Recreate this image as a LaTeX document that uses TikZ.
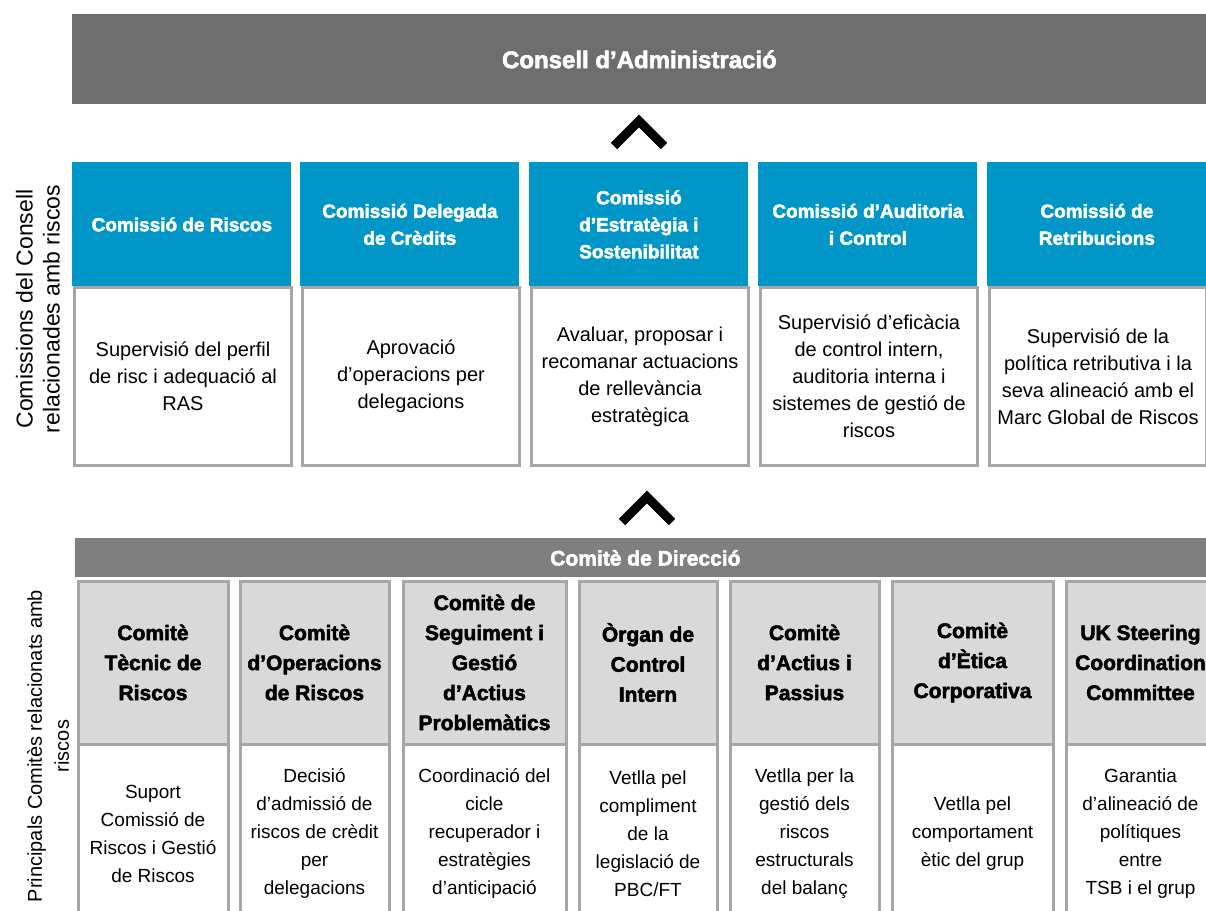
\documentclass[tikz,border=0pt]{standalone}
\usepackage{fontspec}
\setmainfont{Liberation Sans}
\newfontfamily\heavyfont{Liberation Sans Bold}[RawFeature={embolden=2.4}]

\definecolor{boardgray}{HTML}{6E6E6E}
\definecolor{dirgray}{HTML}{7F7F7F}
\definecolor{comblue}{HTML}{0096C8}
\definecolor{headgray}{HTML}{D9D9D9}
\definecolor{linegray}{HTML}{A6A6A6}

\tikzset{
  bar/.style={anchor=north west, fill=#1, text=white, inner sep=0pt},
  comhead/.style={anchor=north west, fill=comblue, text=white, align=center,
    minimum width=109.5pt, minimum height=62pt, inner sep=2pt,
    font=\heavyfont\fontsize{9.5}{13.5}\selectfont},
  combody/.style={anchor=north west, draw=linegray, line width=1.5pt, fill=white,
    align=center, minimum width=108.5pt, minimum height=89pt, inner sep=2pt,
    font=\fontsize{10}{13.5}\selectfont},
  ctehead/.style={anchor=north west, draw=linegray, line width=1.5pt, fill=headgray,
    align=center, minimum width=#1, minimum height=81.5pt, inner sep=2pt,
    font=\heavyfont\fontsize{10.5}{15}\selectfont},
  ctebody/.style={anchor=north west, draw=linegray, line width=1.5pt, fill=white,
    align=center, minimum width=#1, minimum height=89pt, inner sep=2pt,
    font=\fontsize{9.5}{14}\selectfont},
  chevron/.style={line width=4.5pt, miter limit=10},
  side/.style={rotate=90, align=center},
}

\begin{document}
\begin{tikzpicture}[x=0.5pt, y=-0.5pt]
  \useasboundingbox (0,0) rectangle (1206,911);
  \clip (0,0) rectangle (1206,911);

  % consell
  \node[bar=boardgray, minimum width=567pt, minimum height=45pt,
    font=\heavyfont\fontsize{12}{14}\selectfont] (board) at (72,14) {Consell d’Administració};
  \coordinate (up1) at (639,121);
  \draw[chevron] (up1) ++(-25,25) -- ++(25,-25) -- ++(25,25);

  % comissions del consell
  \node[side, font=\fontsize{11.5}{13.5}\selectfont] (comlabel) at (38,309)
    {Comissions del Consell\\relacionades amb riscos};

  \node[combody] (risctxt) at (73,286) {Supervisió del perfil\\de risc i adequació al\\RAS};
  \node[comhead] (risc) at (72,162) {Comissió de Riscos};

  \node[combody] (credittxt) at (301,286) {Aprovació\\d’operacions per\\delegacions};
  \node[comhead] (credit) at (300,162) {Comissió Delegada\\de Crèdits};

  \node[combody] (estrattxt) at (530,286) {Avaluar, proposar i\\recomanar actuacions\\de rellevància\\estratègica};
  \node[comhead] (estrat) at (529,162) {Comissió\\d’Estratègia i\\Sostenibilitat};

  \node[combody] (audittxt) at (759,286) {Supervisió d’eficàcia\\de control intern,\\auditoria interna i\\sistemes de gestió de\\riscos};
  \node[comhead] (audit) at (758,162) {Comissió d’Auditoria\\i Control};

  \node[combody] (retribtxt) at (988,286) {Supervisió de la\\política retributiva i la\\seva alineació amb el\\Marc Global de Riscos};
  \node[comhead] (retrib) at (987,162) {Comissió de\\Retribucions};

  \coordinate (up2) at (647,497);
  \draw[chevron] (up2) ++(-25,25) -- ++(25,-25) -- ++(25,25);

  % comite de direccio
  \node[bar=dirgray, minimum width=570pt, minimum height=19.5pt,
    font=\heavyfont\fontsize{10.5}{12}\selectfont] (direccio) at (75,538) {Comitè de Direcció};

  \node[side, font=\fontsize{10}{13.5}\selectfont] (ctelabel) at (48,746)
    {Principals Comitès relacionats amb\\riscos};

  \node[ctehead=75pt] (tecnic) at (76.5,579.5) {Comitè\\Tècnic de\\Riscos};
  \node[ctebody=75pt] (tecnictxt) at (76.5,743) {Suport\\Comissió de\\Riscos i Gestió\\de Riscos};

  \node[ctehead=74.5pt] (operac) at (238.5,579.5) {Comitè\\d’Operacions\\de Riscos};
  \node[ctebody=74.5pt] (operactxt) at (238.5,743) {Decisió\\d’admissió de\\riscos de crèdit\\per\\delegacions};

  \node[ctehead=81.5pt] (seguim) at (401.5,579.5) {Comitè de\\Seguiment i\\Gestió\\d’Actius\\Problemàtics};
  \node[ctebody=81.5pt] (seguimtxt) at (401.5,743) {Coordinació del\\cicle\\recuperador i\\estratègies\\d’anticipació};

  \node[ctehead=69pt] (organ) at (577.5,579.5) {Òrgan de\\Control\\Intern};
  \node[ctebody=69pt] (organtxt) at (577.5,743) {Vetlla pel\\compliment\\de la\\legislació de\\PBC/FT};

  \node[ctehead=74.5pt] (actius) at (728.5,579.5) {Comitè\\d’Actius i\\Passius};
  \node[ctebody=74.5pt] (actiustxt) at (728.5,743) {Vetlla per la\\gestió dels\\riscos\\estructurals\\del balanç};

  \node[ctehead=80.5pt] (etica) at (890.5,579.5) {Comitè\\d’Ètica\\Corporativa};
  \node[ctebody=80.5pt] (eticatxt) at (890.5,743) {Vetlla pel\\comportament\\ètic del grup};

  \node[ctehead=74.5pt] (steer) at (1064.5,579.5) {UK Steering\\Coordination\\Committee};
  \node[ctebody=74.5pt] (steertxt) at (1064.5,743) {Garantia\\d’alineació de\\polítiques\\entre\\TSB i el grup};
\end{tikzpicture}
\end{document}
